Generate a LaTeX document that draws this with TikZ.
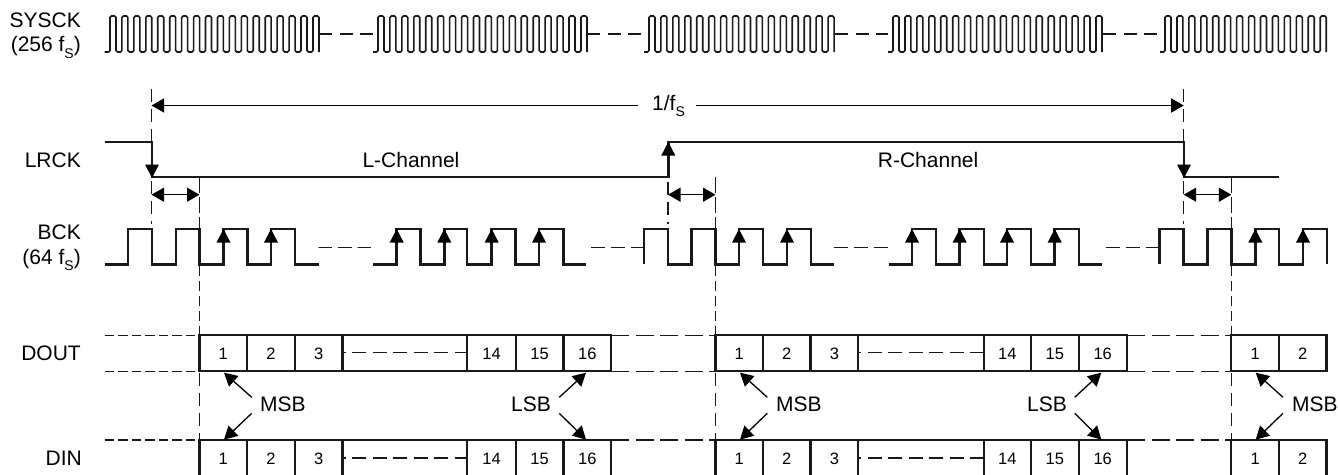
\documentclass[tikz,border=0pt]{standalone}
\usepackage{fontspec}
\setmainfont{Liberation Sans}
\usetikzlibrary{arrows.meta}
\newcommand{\fsub}{f\raisebox{-6.5pt}{\fontsize{14}{14}\selectfont S}}
\newcommand{\burst}[4]{% start, rise, periods, name
  \coordinate (#4) at (#1,52);
  \draw[clkline] (#4) -- (#2,52)
    \foreach \i in {1,...,#3}{ -- ({#2+11.94*(\i-1)},16) -- ({#2+11.94*(\i-0.5)},16) -- ({#2+11.94*(\i-0.5)},52) -- ({#2+11.94*\i},52) }
    -- ({#2+11.94*#3},16) -- ({#2+11.94*(#3+0.5)},16) -- ({#2+11.94*(#3+0.5)},52);
}
\newcommand{\uptip}[2]{\fill[black] (#1,#2) -- ({#1+7},{#2+13.5}) -- ({#1-7},{#2+13.5}) -- cycle;}
\newcommand{\downtip}[2]{\fill[black] (#1,#2) -- ({#1+7},{#2-13.5}) -- ({#1-7},{#2-13.5}) -- cycle;}
\newcommand{\lead}[5]{% name, tail x, tip x, text-x, text
  \coordinate (#1u) at (#3,372.7); \coordinate (#1d) at (#3,439.6);
  \coordinate (#1a) at (#2,397.3); \coordinate (#1b) at (#2,413.3);
  \draw[leader] (#1a) -- (#1u);
  \draw[leader] (#1b) -- (#1d);
  \node[lbl,anchor=base west] (#1) at (#4,411.7) {#5};
}
\tikzset{
  lbl/.style={inner sep=0pt,font=\fontsize{21}{25}\selectfont},
  sig/.style={anchor=base east,lbl},
  num/.style={inner sep=0pt,anchor=base,font=\fontsize{16.5}{20}\selectfont},
  clkline/.style={line width=1.6pt,rounded corners=1.5pt,black!90},
  wave/.style={line width=2.5pt,black!90,miter limit=10},
  cellb/.style={line width=2.2pt,black!90},
  guide/.style={line width=1.3pt,black!90,dash pattern=on 13pt off 7pt},
  thin dash/.style={line width=1.3pt,black!90,dash pattern=on 9.5pt off 4pt},
  long dash/.style={line width=1.3pt,black!90,dash pattern=on 18pt off 6.5pt},
  mid dash/.style={line width=1.3pt,black!90,dash pattern=on 14pt off 6.5pt},
  dim/.style={line width=1.3pt,black,{Triangle[length=12.5pt,width=14pt]}-{Triangle[length=12.5pt,width=14pt]}},
  leader/.style={line width=1.3pt,black,-{Triangle[length=13pt,width=14pt]}},
}
\begin{document}
\begin{tikzpicture}[x=1pt,y=-1pt]
\useasboundingbox (0,0) rectangle (1338,474);
\clip (0,0) rectangle (1338,474);
% labels
\node[sig] (sysck) at (81,27) {SYSCK};
\node[sig] (sysckb) at (81,51.7) {(256 \fsub)};
\node[sig] (lrck) at (81,167) {LRCK};
\node[sig] (bck) at (81,239) {BCK};
\node[sig] (bckb) at (81,264) {(64 \fsub)};
\node[sig] (dout) at (81,360.7) {DOUT};
\node[sig] (din) at (82,465.7) {DIN};
\node[lbl,anchor=base west] (lch) at (362.3,167) {L-Channel};
\node[lbl,anchor=base west] (rch) at (877.7,167) {R-Channel};
\node[lbl,anchor=base west] (period) at (652,110) {1/\fsub};
% SYSCK
\burst{104.5}{110}{17}{b1}
\burst{373}{378}{17}{b2}
\burst{644}{649}{15}{b3}
\burst{888}{893}{17}{b4}
\burst{1160}{1165}{13}{b5}
\foreach \a/\b in {319/373,587/644,835/888,1103/1160}
  \draw[line width=1.4pt,black!90,dash pattern=on 13pt off 7.5pt] (\a,34) -- (\b,34);
% guides
\foreach \x/\g in {151.5/a,1183.7/c}{
  \coordinate (top\g) at (\x,89);
  \draw[guide] (top\g) -- (\x,142);
  \draw[guide] (\x,181) -- (\x,224);
}
\draw[guide] (668,182) -- (668,224);
\foreach \x in {199.5,715.5,1231.3}{
  \draw[line width=1.3pt,black!90,dash pattern=on 16pt off 4pt] (\x,177) -- (\x,229);
  \draw[line width=1.3pt,black!90,dash pattern=on 10pt off 5pt] (\x,266) -- (\x,335);
  \draw[guide] (\x,373) -- (\x,439);
}
% period dimension
\coordinate (pl) at (151.5,105.5); \coordinate (pr) at (1183.7,105.5);
\draw[line width=1.3pt,black,{Triangle[length=12.5pt,width=14pt]}-] (pl) -- (638,105.5);
\draw[line width=1.3pt,black,-{Triangle[length=12.5pt,width=14pt]}] (696,105.5) -- (pr);
% small dimensions
\foreach \a/\b in {151.5/199.5,668/715.5,1183.7/1231.3}
  \draw[dim] (\a,194.7) -- (\b,194.7);
% LRCK
\draw[wave] (104.5,142) -- (152,142) -- (152,177) -- (668.3,177) -- (668.3,142) -- (1184,142) -- (1184,177) -- (1278.7,177);
\downtip{152}{178}
\uptip{668.3}{142}
\downtip{1184}{178}
% BCK
\draw[wave] (104.5,264.3) -- (128,264.3) -- (128,229) -- (152,229) -- (152,264.3) -- (176,264.3) -- (176,229) -- (199.5,229) -- (199.5,264.3) -- (223.5,264.3) -- (223.5,229) -- (247.5,229) -- (247.5,264.3) -- (271,264.3) -- (271,229) -- (295,229) -- (295,264.3) -- (318.5,264.3);
\draw[wave] (373,264.3) -- (396.7,264.3) -- (396.7,229) -- (420.7,229) -- (420.7,264.3) -- (444.3,264.3) -- (444.3,229) -- (467.2,229) -- (467.2,264.3) -- (491.7,264.3) -- (491.7,229) -- (515.7,229) -- (515.7,264.3) -- (539,264.3) -- (539,229) -- (563.5,229) -- (563.5,264.3) -- (586,264.3);
\draw[wave] (644,264.3) -- (644,229) -- (668,229) -- (668,264.3) -- (691.5,264.3) -- (691.5,229) -- (715.5,229) -- (715.5,264.3) -- (739,264.3) -- (739,229) -- (763,229) -- (763,264.3) -- (787,264.3) -- (787,229) -- (811,229) -- (811,264.3) -- (834,264.3);
\draw[wave] (888.5,264.3) -- (912,264.3) -- (912,229) -- (936,229) -- (936,264.3) -- (959.7,264.3) -- (959.7,229) -- (984,229) -- (984,264.3) -- (1007,264.3) -- (1007,229) -- (1031,229) -- (1031,264.3) -- (1054.7,264.3) -- (1054.7,229) -- (1079,229) -- (1079,264.3) -- (1102,264.3);
\draw[wave] (1159.7,264.3) -- (1159.7,229) -- (1183.5,229) -- (1183.5,264.3) -- (1207.3,264.3) -- (1207.3,229) -- (1231.3,229) -- (1231.3,264.3) -- (1255.3,264.3) -- (1255.3,229) -- (1279,229) -- (1279,264.3) -- (1303,264.3) -- (1303,229) -- (1327,229) -- (1327,264.3);
\foreach \x in {223.5,271,396.7,444.3,491.7,539,739,787,912,959.7,1007,1054.7,1255.3,1303}
  \uptip{\x}{229}
\draw[line width=1.3pt,black!90,dash pattern=on 13.5pt off 6pt] (318.5,247.3) -- (373,247.3);
\draw[line width=1.3pt,black!90,dash pattern=on 14pt off 6pt] (590.7,247.3) -- (644,247.3);
\foreach \a/\b in {834/888,1106/1160}
  \draw[line width=1.3pt,black!90,dash pattern=on 14pt off 6pt] (\a,247.3) -- (\b,247.3);
% data rows: dashes outside the cells
\foreach \y in {335.3,371.3,440}{
  \draw[thin dash] (104.5,\y) -- (199.5,\y);
  \draw[long dash] (611,\y) -- (715.5,\y);
  \draw[long dash] (1127,\y) -- (1231.3,\y);
}
% cell outlines
\foreach \ya/\yb/\ym/\yt/\nm in {335.3/371.3/352.7/359.5/d,440/482/458/464.7/i}{
  \foreach \xa/\xb/\xc/\xd/\xe/\xf/\xg/\xh/\k in {199.5/247/295/342.5/467.3/515.7/563.5/611/p,715.5/763/810.5/858.3/983.7/1031/1078.7/1126.7/q}{
    \draw[cellb] (\xa,\ya) rectangle (\xd,\yb);
    \draw[cellb] (\xe,\ya) rectangle (\xh,\yb);
    \draw[cellb] (\xd,\ya) -- (\xe,\ya) (\xd,\yb) -- (\xe,\yb);
    \draw[cellb] (\xb,\ya) -- (\xb,\yb) (\xc,\ya) -- (\xc,\yb) (\xf,\ya) -- (\xf,\yb) (\xg,\ya) -- (\xg,\yb);
    \draw[mid dash,dash phase=11pt] (\xd,\ym) -- (\xe,\ym);
    \node[num,name=\nm\k1] at ({(\xa+\xb)/2},\yt) {1};
    \node[num,name=\nm\k2] at ({(\xb+\xc)/2},\yt) {2};
    \node[num,name=\nm\k3] at ({(\xc+\xd)/2},\yt) {3};
    \node[num,name=\nm\k14] at ({(\xe+\xf)/2},\yt) {14};
    \node[num,name=\nm\k15] at ({(\xf+\xg)/2},\yt) {15};
    \node[num,name=\nm\k16] at ({(\xg+\xh)/2},\yt) {16};
  }
  \draw[cellb] (1231.3,\ya) rectangle (1326.5,\yb);
  \draw[cellb] (1279,\ya) -- (1279,\yb);
  \node[num,name=\nm r1] at (1255.2,\yt) {1};
  \node[num,name=\nm r2] at (1302.8,\yt) {2};
}
% MSB / LSB
\lead{msba}{251.7}{224}{260}{MSB}
\lead{lsba}{559.3}{586}{511}{LSB}
\lead{msbb}{767.3}{740}{776}{MSB}
\lead{lsbb}{1074.7}{1101.3}{1027}{LSB}
\lead{msbc}{1283}{1255.7}{1292}{MSB}
\end{tikzpicture}
\end{document}
